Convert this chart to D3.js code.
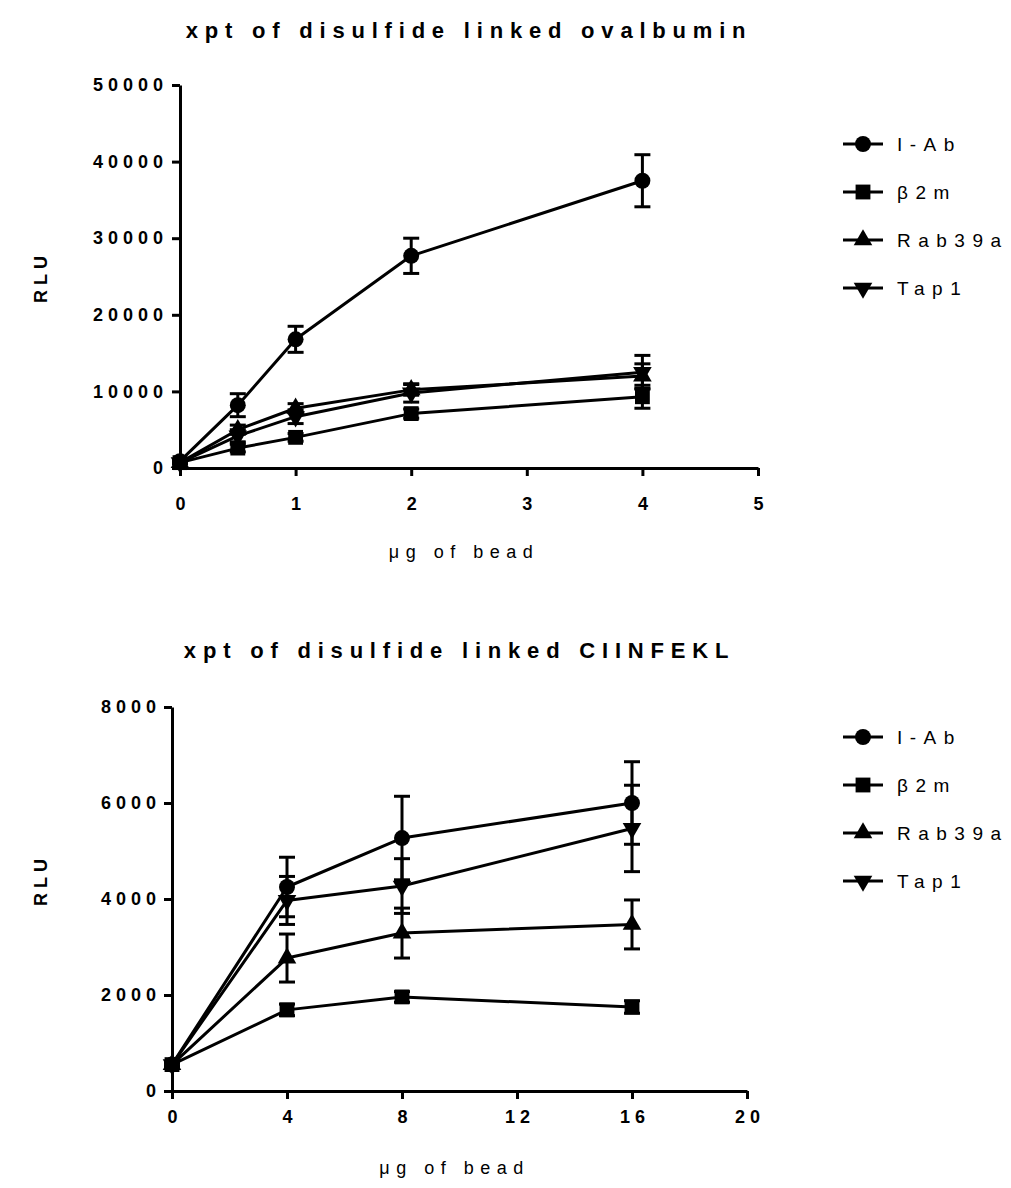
<!DOCTYPE html>
<html>
<head>
<meta charset="utf-8">
<script src="https://cdn.jsdelivr.net/npm/d3@7"></script>
<style>
  body { margin: 0; background: #fff; }
  svg text { font-family: Arial, "Liberation Sans", sans-serif; fill: #000; }
</style>
</head>
<body>
<svg id="chart" width="1011" height="1188"></svg>
<script>
// Series shared by both experiments
const seriesNames = ["I-Ab", "β2m", "Rab39a", "Tap1"];
const seriesSymbols = ["circle", "square", "triangle", "triangleDown"];

// Experiment 1: disulfide linked ovalbumin
const ovaDose = [0, 0.5, 1, 2, 4];
const ovaIAb = [900, 8200, 16800, 27700, 37500];
const ovaIAbErr = [150, 1500, 1700, 2300, 3400];
const ovaB2m = [700, 2600, 4000, 7100, 9300];
const ovaB2mErr = [100, 500, 500, 600, 1500];
const ovaRab39a = [700, 5000, 7800, 10200, 12000];
const ovaRab39aErr = [100, 600, 600, 700, 1600];
const ovaTap1 = [700, 4200, 6700, 9800, 12500];
const ovaTap1Err = [100, 800, 900, 1200, 2200];
const ovaXTicks = [0, 1, 2, 3, 4, 5];
const ovaYTicks = [0, 10000, 20000, 30000, 40000, 50000];

// Experiment 2: disulfide linked CIINFEKL
const ciiDose = [0, 4, 8, 16];
const ciiIAb = [550, 4250, 5270, 6000];
const ciiIAbErr = [50, 620, 870, 860];
const ciiB2m = [550, 1690, 1960, 1750];
const ciiB2mErr = [50, 120, 110, 130];
const ciiRab39a = [550, 2770, 3290, 3470];
const ciiRab39aErr = [50, 500, 520, 510];
const ciiTap1 = [550, 3970, 4270, 5470];
const ciiTap1Err = [50, 500, 570, 900];
const ciiXTicks = [0, 4, 8, 12, 16, 20];
const ciiYTicks = [0, 2000, 4000, 6000, 8000];

const panels = [
  {
    title: "xpt of disulfide linked ovalbumin",
    dose: ovaDose,
    values: [ovaIAb, ovaB2m, ovaRab39a, ovaTap1],
    errors: [ovaIAbErr, ovaB2mErr, ovaRab39aErr, ovaTap1Err],
    xTicks: ovaXTicks, yTicks: ovaYTicks,
    xDomain: [0, 5], yDomain: [0, 50000],
    left: 180, right: 758, top: 85, bottom: 468,
    xTickPad: 21, yTickPad: 4,
    titleY: 38, xTitleY: 558, yTitleY: 277,
    legendTop: 144
  },
  {
    title: "xpt of disulfide linked CIINFEKL",
    dose: ciiDose,
    values: [ciiIAb, ciiB2m, ciiRab39a, ciiTap1],
    errors: [ciiIAbErr, ciiB2mErr, ciiRab39aErr, ciiTap1Err],
    xTicks: ciiXTicks, yTicks: ciiYTicks,
    xDomain: [0, 20], yDomain: [0, 8000],
    left: 172, right: 747, top: 707, bottom: 1091,
    xTickPad: 11, yTickPad: 3,
    titleY: 658, xTitleY: 1174, yTitleY: 880,
    legendTop: 737
  }
];

const svg = d3.select("#chart");

const symbolFor = (name, size) => {
  if (name === "circle") return d3.symbol(d3.symbolCircle, size)();
  if (name === "square") return d3.symbol(d3.symbolSquare, size)();
  return d3.symbol(d3.symbolTriangle, size)();
};
const symbolSize = { circle: 200, square: 220, triangle: 150, triangleDown: 150 };
const symbolTransform = (name, x, y) =>
  `translate(${x},${y})` + (name === "triangleDown" ? " rotate(180)" : "");

panels.forEach(p => {
  const x = d3.scaleLinear().domain(p.xDomain).range([p.left, p.right]);
  const y = d3.scaleLinear().domain(p.yDomain).range([p.bottom, p.top]);
  const g = svg.append("g");

  // Title
  g.append("text")
    .attr("x", (p.left + p.right) / 2)
    .attr("y", p.titleY)
    .attr("text-anchor", "middle")
    .style("font-size", "22px").style("font-weight", "bold")
    .style("letter-spacing", "6.8px")
    .text(p.title);

  // Axes
  const xAxis = g.append("g")
    .attr("transform", `translate(0,${p.bottom})`)
    .call(d3.axisBottom(x).tickValues(p.xTicks).tickSize(8).tickSizeOuter(0)
      .tickPadding(p.xTickPad).tickFormat(d3.format("d")));
  const yAxis = g.append("g")
    .attr("transform", `translate(${p.left},0)`)
    .call(d3.axisLeft(y).tickValues(p.yTicks).tickSize(8).tickSizeOuter(0)
      .tickPadding(p.yTickPad).tickFormat(d3.format("d")));
  [xAxis, yAxis].forEach(a => {
    a.select(".domain").attr("stroke", "#000").attr("stroke-width", 3);
    a.selectAll(".tick line").attr("stroke", "#000").attr("stroke-width", 3);
    a.selectAll(".tick text")
      .style("font-size", "18px").style("font-weight", "bold")
      .style("letter-spacing", "5px").attr("fill", "#000");
  });
  xAxis.selectAll(".tick text").attr("dx", "2.5px");

  // Axis titles
  g.append("text")
    .attr("x", (p.left + p.right) / 2 - 5)
    .attr("y", p.xTitleY)
    .attr("text-anchor", "middle")
    .style("font-size", "18px").style("letter-spacing", "6.5px")
    .text("μg of bead");
  g.append("text")
    .attr("transform", `translate(47,${p.yTitleY}) rotate(-90)`)
    .attr("text-anchor", "middle")
    .style("font-size", "18px").style("font-weight", "bold")
    .style("letter-spacing", "5px")
    .text("RLU");

  const line = d3.line().x((d, i) => x(p.dose[i])).y(d => y(d));

  // Connecting lines
  p.values.forEach(vals => {
    g.append("path").datum(vals)
      .attr("d", line)
      .attr("fill", "none").attr("stroke", "#000")
      .attr("stroke-width", 3).attr("stroke-linejoin", "round");
  });

  // Error bars (mean ± SEM)
  p.values.forEach((vals, s) => {
    vals.forEach((v, i) => {
      const e = p.errors[s][i];
      const cx = x(p.dose[i]);
      const y0 = y(v - e), y1 = y(v + e);
      const eb = g.append("g").attr("stroke", "#000").attr("stroke-width", 3);
      eb.append("line").attr("x1", cx).attr("x2", cx).attr("y1", y0).attr("y2", y1);
      eb.append("line").attr("x1", cx - 8).attr("x2", cx + 8).attr("y1", y0).attr("y2", y0);
      eb.append("line").attr("x1", cx - 8).attr("x2", cx + 8).attr("y1", y1).attr("y2", y1);
    });
  });

  // Markers
  p.values.forEach((vals, s) => {
    const sym = seriesSymbols[s];
    g.selectAll(null).data(vals).join("path")
      .attr("d", symbolFor(sym, symbolSize[sym]))
      .attr("transform", (d, i) => symbolTransform(sym, x(p.dose[i]), y(d)))
      .attr("fill", "#000");
  });

  // Legend
  const lg = g.append("g");
  seriesNames.forEach((name, s) => {
    const ly = p.legendTop + s * 48;
    const sym = seriesSymbols[s];
    lg.append("line").attr("x1", 843).attr("x2", 883).attr("y1", ly).attr("y2", ly)
      .attr("stroke", "#000").attr("stroke-width", 3);
    lg.append("path").attr("d", symbolFor(sym, symbolSize[sym]))
      .attr("transform", symbolTransform(sym, 863, ly)).attr("fill", "#000");
    lg.append("text").attr("x", 897).attr("y", ly + 7)
      .style("font-size", "19px").style("letter-spacing", "7.5px")
      .text(name);
  });
});
</script>
</body>
</html>
